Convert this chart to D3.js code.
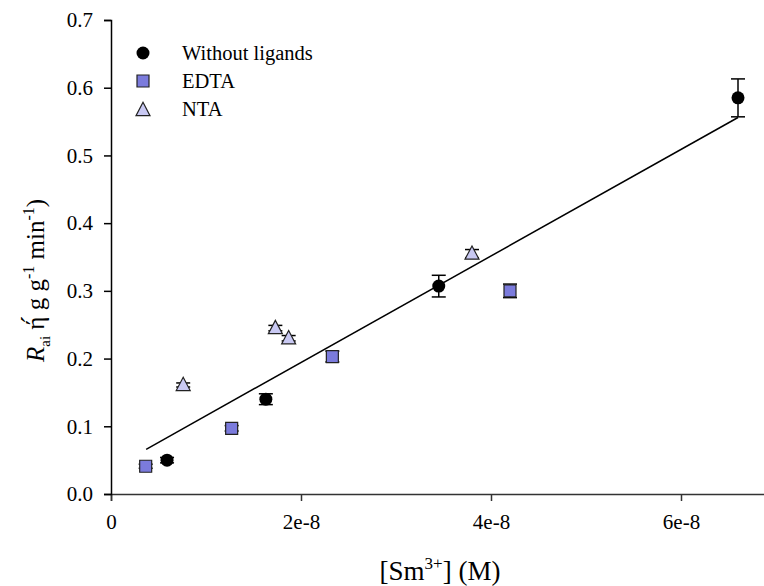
<!DOCTYPE html>
<html>
<head>
<meta charset="utf-8">
<script src="https://cdn.jsdelivr.net/npm/d3@7"></script>
<style>
  html, body { margin: 0; padding: 0; background: #fff; }
  svg { display: block; }
  text { font-family: "Liberation Serif", "Times New Roman", serif; fill: #000; }
</style>
</head>
<body>
<svg id="chart" width="764" height="586"></svg>
<script>
// ---- data ----
const withoutX = [5.9e-9, 1.63e-8, 3.45e-8, 6.6e-8];
const withoutY = [0.050, 0.140, 0.307, 0.585];
const withoutErr = [0.004, 0.008, 0.016, 0.028];

const edtaX = [3.65e-9, 1.27e-8, 2.33e-8, 4.2e-8];
const edtaY = [0.041, 0.097, 0.203, 0.300];
const edtaErr = [0.003, 0.004, 0.008, 0.010];

const ntaX = [7.6e-9, 1.73e-8, 1.87e-8, 3.8e-8];
const ntaY = [0.161, 0.245, 0.230, 0.355];
const ntaErr = [0.003, 0.004, 0.004, 0.006];

const fitX = [3.7e-9, 6.6e-8];
const fitY = [0.066, 0.556];

const xTicks = [0, 2e-8, 4e-8, 6e-8];
const xTickLabels = ["0", "2e-8", "4e-8", "6e-8"];
const yTicks = [0, 0.1, 0.2, 0.3, 0.4, 0.5, 0.6, 0.7];

const legendLabels = ["Without ligands", "EDTA", "NTA"];

// ---- layout ----
const FONT = '"Liberation Serif", "Times New Roman", serif';
const svg = d3.select("#chart");
const x = d3.scaleLinear().domain([0, 7e-8]).range([111, 776]);
const y = d3.scaleLinear().domain([0, 0.7]).range([494, 20]);

const edtaFill = "#7b7bdc";
const ntaFill = "#c9c9f3";
const markStroke = "#222";

// axes
const xAxis = d3.axisBottom(x).tickValues(xTicks)
  .tickFormat((d, i) => xTickLabels[i]).tickSizeOuter(0).tickSize(7).tickPadding(13);
const gx = svg.append("g").attr("transform", "translate(0,494)").call(xAxis);
gx.attr("font-family", null);
gx.select(".domain").attr("stroke", "#333").attr("stroke-width", 1.5);
gx.selectAll(".tick line").attr("stroke", "#333").attr("stroke-width", 1.5);
gx.selectAll(".tick text").attr("font-size", 21).style("font-family", FONT);

const yAxis = d3.axisLeft(y).tickValues(yTicks).tickFormat(d3.format(".1f"))
  .tickSizeOuter(0).tickSize(7).tickPadding(11);
const gy = svg.append("g").attr("transform", "translate(111,0)").call(yAxis);
gy.attr("font-family", null);
gy.select(".domain").attr("stroke", "#000").attr("stroke-width", 1.5);
gy.selectAll(".tick line").attr("stroke", "#000").attr("stroke-width", 1.5);
gy.selectAll(".tick text").attr("font-size", 21).style("font-family", FONT);

// fit line
const line = d3.line().x(d => x(d[0])).y(d => y(d[1]));
svg.append("path").datum(d3.zip(fitX, fitY)).attr("d", line)
  .attr("fill", "none").attr("stroke", "#000").attr("stroke-width", 1.5);

// error bars
function errorBars(xs, ys, es) {
  const data = d3.zip(xs, ys, es);
  const g = svg.append("g").attr("stroke", "#000").attr("stroke-width", 1.5);
  data.forEach(([cx, cy, e]) => {
    const px = x(cx);
    g.append("line").attr("x1", px).attr("x2", px).attr("y1", y(cy - e)).attr("y2", y(cy + e));
    g.append("line").attr("x1", px - 7).attr("x2", px + 7).attr("y1", y(cy - e)).attr("y2", y(cy - e));
    g.append("line").attr("x1", px - 7).attr("x2", px + 7).attr("y1", y(cy + e)).attr("y2", y(cy + e));
  });
}
errorBars(withoutX, withoutY, withoutErr);
errorBars(edtaX, edtaY, edtaErr);
errorBars(ntaX, ntaY, ntaErr);

// markers
const circleSym = d3.symbol().type(d3.symbolCircle).size(Math.PI * 6.5 * 6.5);
const squarePath = (s) => `M${-s/2},${-s/2}h${s}v${s}h${-s}Z`;
const triPath = (w) => `M0,${-w*0.55}L${w/2},${w*0.4}L${-w/2},${w*0.4}Z`;

svg.append("g").selectAll("path").data(d3.zip(withoutX, withoutY)).join("path")
  .attr("d", circleSym).attr("transform", d => `translate(${x(d[0])},${y(d[1])})`)
  .attr("fill", "#000");
svg.append("g").selectAll("path").data(d3.zip(edtaX, edtaY)).join("path")
  .attr("d", squarePath(12)).attr("transform", d => `translate(${x(d[0])},${y(d[1])})`)
  .attr("fill", edtaFill).attr("stroke", markStroke).attr("stroke-width", 1.2);
svg.append("g").selectAll("path").data(d3.zip(ntaX, ntaY)).join("path")
  .attr("d", triPath(14)).attr("transform", d => `translate(${x(d[0])},${y(d[1])})`)
  .attr("fill", ntaFill).attr("stroke", markStroke).attr("stroke-width", 1.2);

// legend
const lg = svg.append("g");
const lgY = [53, 81, 110];
lg.append("path").attr("d", circleSym).attr("transform", `translate(143,${lgY[0]})`).attr("fill", "#000");
lg.append("path").attr("d", squarePath(12)).attr("transform", `translate(143,${lgY[1]})`)
  .attr("fill", edtaFill).attr("stroke", markStroke).attr("stroke-width", 1.2);
lg.append("path").attr("d", triPath(14)).attr("transform", `translate(143,${lgY[2]})`)
  .attr("fill", ntaFill).attr("stroke", markStroke).attr("stroke-width", 1.2);
const lgBase = [60, 88, 116];
legendLabels.forEach((t, i) => {
  lg.append("text").attr("x", 182).attr("y", lgBase[i]).attr("font-size", 20.5)
    .style("font-family", FONT).text(t);
});

// x-axis title
const xt = svg.append("text").attr("x", 440).attr("y", 580).attr("text-anchor", "middle")
  .attr("font-size", 27).style("font-family", FONT);
xt.append("tspan").text("[Sm");
xt.append("tspan").attr("dy", -11).attr("font-size", 17).text("3+");
xt.append("tspan").attr("dy", 11).text("] (M)");

// y-axis title
const yt = svg.append("text").attr("transform", "translate(44,362) rotate(-90)")
  .attr("text-anchor", "start").attr("font-size", 25).style("font-family", FONT);
yt.append("tspan").attr("font-style", "italic").text("R");
yt.append("tspan").attr("dy", 6).attr("font-size", 15).text("ai");
yt.append("tspan").attr("dy", -6).text(" \u03AE\u0301 g g");
yt.append("tspan").attr("dy", -10).attr("font-size", 16).text("-1");
yt.append("tspan").attr("dy", 10).text(" min");
yt.append("tspan").attr("dy", -10).attr("font-size", 16).text("-1");
yt.append("tspan").attr("dy", 10).text(")");
</script>
</body>
</html>
